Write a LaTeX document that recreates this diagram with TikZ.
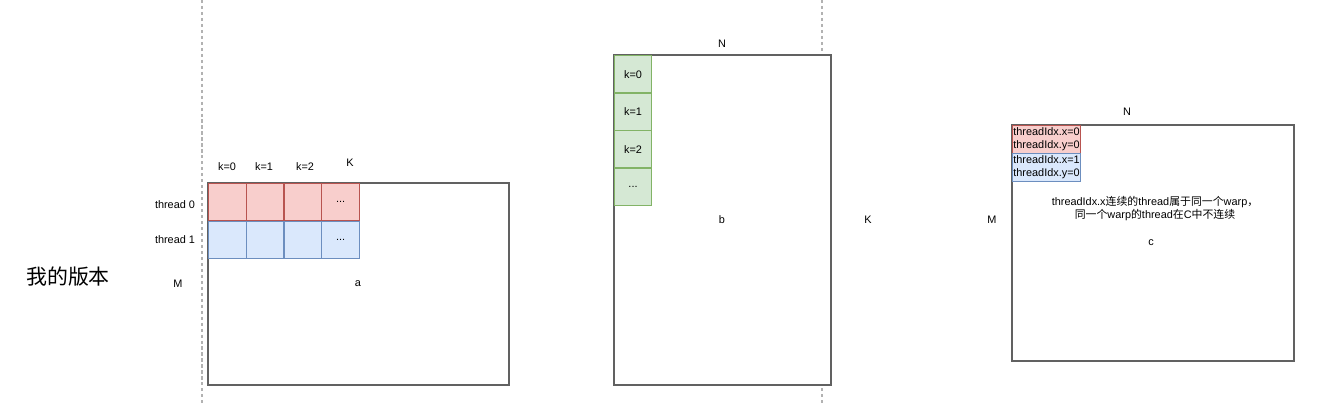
\documentclass[tikz,border=0pt]{standalone}
\usepackage{fontspec}
\setmainfont{Liberation Sans}
\newfontfamily\cjk{Noto Sans CJK SC}
\usetikzlibrary{positioning}
\definecolor{redfill}{HTML}{F8CECC}
\definecolor{redline}{HTML}{B85450}
\definecolor{bluefill}{HTML}{DAE8FC}
\definecolor{blueline}{HTML}{6C8EBF}
\definecolor{greenfill}{HTML}{D5E8D4}
\definecolor{greenline}{HTML}{82B366}
\newcommand{\moredots}{...}
\tikzset{
    matrix box/.style={draw=black!62,fill=white,line width=0.6pt},
    cell/.style={anchor=north west,line width=0.6pt,inner sep=0pt,minimum width=0.755cm,minimum height=0.75cm},
    red cell/.style={cell,draw=redline,fill=redfill},
    blue cell/.style={cell,draw=blueline,fill=bluefill},
    green cell/.style={cell,draw=greenline,fill=greenfill,minimum width=0.74cm},
    idx box/.style={anchor=north west,line width=0.6pt,inner xsep=0pt,inner ysep=0.5pt,minimum width=1.36cm,minimum height=0.56cm,align=left},
    separator/.style={draw=black!30,line width=0.6pt,dash pattern=on 1.8pt off 1.6pt},
    label/.style={inner sep=0pt},
}
\tikzstyle{every node}=[font=\fontsize{6.2}{7.4}\selectfont]

\begin{document}
\begin{tikzpicture}[x=0.02cm,y=-0.02cm]
    \useasboundingbox (0,0) rectangle (1326,406);
    \draw[separator] (202,0) -- (202,406);
    \draw[separator] (822,0) -- (822,406);

    \node[label,font=\cjk\fontsize{11.9}{13}\selectfont] (title) at (68,277) {我的版本};

    % matrix a
    \draw[matrix box] (208,183) rectangle (509,385);
    \foreach \i/\t in {0/,1/,2/,3/\moredots} {
        \node[red cell] (r\i) at (208+37.75*\i,183) {\t};
        \node[blue cell] (u\i) at (208+37.75*\i,220.5) {\t};
    }
    \foreach \i/\x in {0/227,1/264,2/305}
        \node[label] (ka\i) at (\x,167) {k=\i};
    \node[label] (Ka) at (350,163) {K};
    \node[label] (t0) at (175,205) {thread 0};
    \node[label] (t1) at (175,240) {thread 1};
    \node[label] (Ma) at (178,284) {M};
    \node[label] (a) at (358,284) {a};

    % matrix b
    \draw[matrix box] (614,55) rectangle (831,385);
    \foreach \i/\t in {0/k=0,1/k=1,2/k=2,3/\moredots}
        \node[green cell] (g\i) at (614,55+37.5*\i) {\t};
    \node[label] (Nb) at (722,44) {N};
    \node[label] (b) at (722,220) {b};
    \node[label] (Kb) at (868,220) {K};

    % matrix c
    \draw[matrix box] (1012,125) rectangle (1294,361);
    \node[idx box,draw=redline,fill=redfill] (x0) at (1012,125) {threadIdx.x=0\\threadIdx.y=0};
    \node[idx box,draw=blueline,fill=bluefill] (x1) at (1012,153) {threadIdx.x=1\\threadIdx.y=0};
    \node[label] (Nc) at (1127,112) {N};
    \node[label] (Mc) at (992,220) {M};
    \node[label,align=center] (note) at (1155,209) {threadIdx.x{\cjk 连续的}thread{\cjk 属于同一个}warp{\cjk ，}\\{\cjk 同一个}warp{\cjk 的}thread{\cjk 在}C{\cjk 中不连续}};
    \node[label] (c) at (1151,243) {c};
\end{tikzpicture}
\end{document}
